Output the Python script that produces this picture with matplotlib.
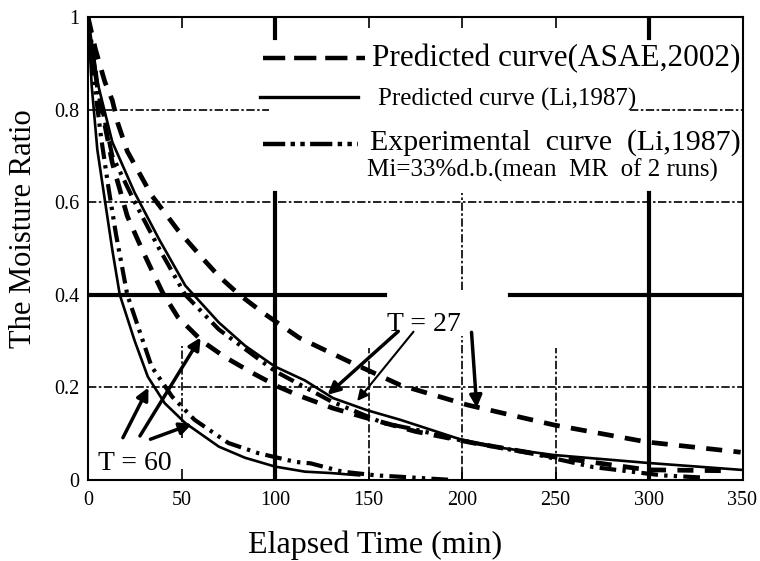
import matplotlib
matplotlib.use("Agg")
import matplotlib.pyplot as plt

plt.rcParams['font.family'] = ['Liberation Serif', 'DejaVu Serif']

# ---- data (elapsed time in min, moisture ratio) ----
t_asae27 = [0, 4, 9, 13, 16, 21, 34, 48, 61, 70, 81, 94, 113, 140, 167, 203, 249, 299, 349]
mr_asae27 = [1, 0.93, 0.86, 0.82, 0.77, 0.71, 0.615, 0.54, 0.48, 0.44, 0.40, 0.36, 0.307, 0.255, 0.205, 0.162, 0.119, 0.082, 0.06]

t_asae60 = [0, 5, 13, 21, 29, 34, 40, 48, 61, 73, 88, 102, 113, 131, 149, 175, 206, 249, 299, 340]
mr_asae60 = [1, 0.85, 0.685, 0.57, 0.497, 0.454, 0.404, 0.352, 0.30, 0.266, 0.231, 0.201, 0.182, 0.155, 0.134, 0.105, 0.08, 0.05, 0.022, 0.02]

t_li27 = [0, 5, 13, 25, 38, 52, 70, 84, 100, 116, 131, 149, 167, 199, 220, 249, 299, 349]
mr_li27 = [1, 0.86, 0.73, 0.62, 0.52, 0.42, 0.34, 0.29, 0.245, 0.215, 0.177, 0.151, 0.13, 0.088, 0.07, 0.054, 0.037, 0.022]

t_exp27 = [0, 5, 13, 25, 38, 52, 70, 100, 130, 158, 174, 200, 240, 270, 307, 330]
mr_exp27 = [1, 0.85, 0.70, 0.60, 0.50, 0.40, 0.325, 0.235, 0.17, 0.123, 0.11, 0.085, 0.055, 0.028, 0.01, 0.005]

t_li60 = [0, 2, 5, 9, 13, 17, 25, 32, 41, 52, 70, 84, 100, 116, 130, 145]
mr_li60 = [1, 0.85, 0.713, 0.605, 0.497, 0.40, 0.30, 0.223, 0.166, 0.123, 0.072, 0.048, 0.029, 0.018, 0.015, 0.01]

t_exp60 = [0, 3, 7, 11, 15, 21, 34, 45, 57, 75, 91, 111, 119, 136, 154, 167, 195]
mr_exp60 = [1, 0.87, 0.74, 0.63, 0.53, 0.40, 0.245, 0.18, 0.13, 0.08, 0.058, 0.039, 0.036, 0.018, 0.01, 0.007, 0.0]

x_ticks = [0, 50, 100, 150, 200, 250, 300, 350]
y_ticks = [0, 0.2, 0.4, 0.6, 0.8, 1]
y_ticklabels = ['0', '0.2', '0.4', '0.6', '0.8', '1']

legend_labels = ['Predicted curve(ASAE,2002)', 'Predicted curve (Li,1987)', 'Experimental  curve  (Li,1987)']
note = 'Mi=33%d.b.(mean  MR  of 2 runs)'

# ---- figure ----
fig = plt.figure(figsize=(7.6, 5.61), dpi=100)
ax = fig.add_axes([88 / 760, 81 / 561, 654.5 / 760, 463 / 561])
ax.set_xlim(0, 350)
ax.set_ylim(0, 1)

k = 'black'
dashgrid = (5, 1.5, 1.5, 1.5)
# grid-like reference lines (partial, as in original)
ax.plot([0, 350], [0.2, 0.2], color=k, lw=1.2, dashes=dashgrid, zorder=1)
ax.plot([0, 350], [0.6, 0.6], color=k, lw=1.2, dashes=dashgrid, zorder=1)
ax.plot([0, 97], [0.8, 0.8], color=k, lw=1.2, dashes=dashgrid, zorder=1)
ax.plot([290, 350], [0.8, 0.8], color=k, lw=1.2, dashes=dashgrid, zorder=1)
ax.plot([0, 159], [0.4, 0.4], color=k, lw=3, zorder=1)
ax.plot([225.5, 350], [0.4, 0.4], color=k, lw=3, zorder=1)
ax.plot([100, 100], [0, 0.62], color=k, lw=3, zorder=1)
ax.plot([300, 300], [0, 0.62], color=k, lw=3, zorder=1)
ax.plot([200, 200], [0, 0.31], color=k, lw=1.2, dashes=dashgrid, zorder=1)
ax.plot([200, 200], [0.41, 0.62], color=k, lw=1.2, dashes=dashgrid, zorder=1)
ax.plot([150, 150], [0, 0.285], color=k, lw=1.2, dashes=dashgrid, zorder=1)
ax.plot([250, 250], [0, 0.285], color=k, lw=1.2, dashes=dashgrid, zorder=1)
ax.plot([50, 50], [0.09, 0.29], color=k, lw=1.2, dashes=dashgrid, zorder=1)
for xv in (100, 300):
    ax.plot([xv, xv], [0.955, 1], color=k, lw=3, zorder=1)

# ---- curves ----
dash_style = dict(color=k, lw=3.4, dashes=(3.4, 2.4))
solid_style = dict(color=k, lw=1.9)
dd_style = dict(color=k, lw=3.0, dashes=(4, 1.5, 0.8, 1.5, 0.8, 1.5))

ax.plot(t_asae27, mr_asae27, **dash_style, zorder=3)
ax.plot(t_asae60, mr_asae60, **dash_style, zorder=3)
ax.plot(t_li27, mr_li27, **solid_style, zorder=4)
ax.plot(t_li60, mr_li60, **solid_style, zorder=4)
ax.plot(t_exp27, mr_exp27, **dd_style, zorder=3)
ax.plot(t_exp60, mr_exp60, **dd_style, zorder=3)

# ---- manual legend ----
tr = ax.transAxes
ax.plot([0.267, 0.423], [0.911, 0.911], transform=tr, clip_on=False, color=k, lw=3.2, dashes=(5, 2))
ax.plot([0.263, 0.4125], [0.827, 0.827], transform=tr, clip_on=False, color=k, lw=2.4)
ax.plot([0.267, 0.4125], [0.726, 0.726], transform=tr, clip_on=False, color=k, lw=3.2,
        dashes=(5, 1.2, 1, 1.2, 1, 1.2))
ax.text(0.434, 0.911, legend_labels[0], transform=tr, fontsize=22.5, va='center', ha='left')
ax.text(0.443, 0.821, legend_labels[1], transform=tr, fontsize=18, va='center', ha='left')
ax.text(0.431, 0.728, legend_labels[2], transform=tr, fontsize=21.5, va='center', ha='left')
ax.text(0.426, 0.668, note, transform=tr, fontsize=18, va='center', ha='left')

# ---- annotations ----
ax.text(160, 0.322, 'T = 27', fontsize=20, ha='left', va='baseline')
ax.text(5.3, 0.022, 'T = 60', fontsize=20, ha='left', va='baseline')
arrow_thick = dict(arrowstyle='-|>', color=k, lw=2.5, mutation_scale=18)
arrow_thin = dict(arrowstyle='-|>', color=k, lw=1.5, mutation_scale=16)
ax.annotate('', xy=(127, 0.18), xytext=(167, 0.325), arrowprops=arrow_thick)
ax.annotate('', xy=(143, 0.166), xytext=(175, 0.325), arrowprops=arrow_thin)
ax.annotate('', xy=(208, 0.15), xytext=(205, 0.325), arrowprops=arrow_thick)
ax.annotate('', xy=(33, 0.205), xytext=(18, 0.086), arrowprops=arrow_thick)
ax.annotate('', xy=(61, 0.313), xytext=(27, 0.09), arrowprops=arrow_thick)
ax.annotate('', xy=(57, 0.123), xytext=(32, 0.086), arrowprops=arrow_thick)

# ---- axes styling ----
ax.set_xticks(x_ticks)
ax.set_yticks(y_ticks)
ax.set_yticklabels(y_ticklabels)
ax.tick_params(axis='x', direction='in', top=True, bottom=True, length=8, width=1.2,
               labelsize=14.5, pad=8)
ax.tick_params(axis='y', length=0, labelsize=14.5, pad=6)
for s in ax.spines.values():
    s.set_linewidth(1.5)
ax.set_xlabel('Elapsed Time (min)', fontsize=23)
ax.xaxis.set_label_coords(0.4385, -0.14)
ax.xaxis.label.set_va('center')
ax.set_ylabel('The Moisture Ratio', fontsize=22)
ax.yaxis.set_label_coords(-0.098, 0.543)
ax.yaxis.label.set_va('center')

fig.savefig('out.png', dpi=100)
